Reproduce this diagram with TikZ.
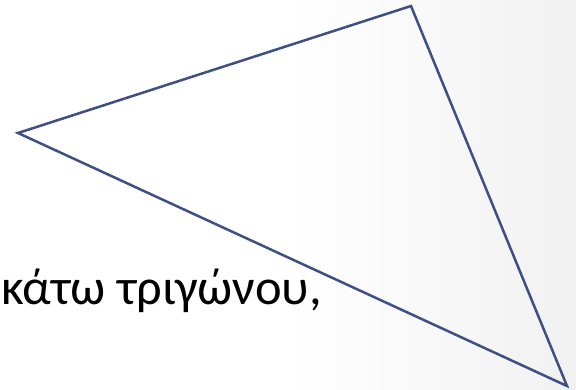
\documentclass[tikz,border=0pt]{standalone}
\usepackage{fontspec}
\setmainfont{Carlito}
\usepackage{tikz}
\definecolor{edgeblue}{RGB}{62,80,130}

\begin{document}
\begin{tikzpicture}[x=1pt,y=-1pt]
    \useasboundingbox (0,0) rectangle (576,390);
    % background
    \fill[white] (0,0) rectangle (290,390);
    \shade[left color=white, right color=gray!11] (290,0) rectangle (576,390);

    \coordinate (A) at (18,133);
    \coordinate (B) at (411,6);
    \coordinate (C) at (567,386);

    \draw[edgeblue, line width=2.5pt, line join=miter] (A) -- (B) -- (C) -- cycle;

    \node[anchor=base west, inner sep=0pt, font=\fontsize{50.5}{60}\selectfont] (caption) at (1,305) {κάτω τριγώνου,};
\end{tikzpicture}
\end{document}
